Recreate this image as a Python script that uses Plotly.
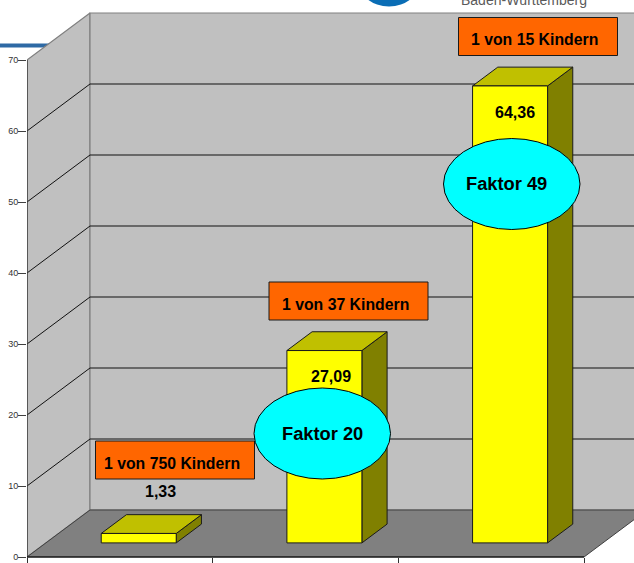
import plotly.graph_objects as go

# ---- data ----
categories = ["A", "B", "C"]
values = [1.33, 27.09, 64.36]
value_labels = ["1,33", "27,09", "64,36"]
callouts = ["1 von 750 Kindern", "1 von 37 Kindern", "1 von 15 Kindern"]
factors = ["Faktor 20", "Faktor 49"]
y_ticks = [0, 10, 20, 30, 40, 50, 60, 70]

# ---- layout constants (pixels) ----
W, H = 634, 563
X0, X_PER_CAT = 27, (584 - 27) / 3
Y0, Y_PER_UNIT = 557, (557 - 60) / 70
DEPTH_X = 63 / X_PER_CAT     # in category units
DEPTH_Y = 47 / Y_PER_UNIT    # in value units
X_MAX = (W - X0) / X_PER_CAT
Y_MAX = Y0 / Y_PER_UNIT
Y_MIN = -(H - Y0) / Y_PER_UNIT
BAR_W = 75 / X_PER_CAT
Z_FRONT, Z_BACK = 0.3, 0.7

def P(x, v, z):
    return x + z * DEPTH_X, v + z * DEPTH_Y

def px(x):   # page pixel -> paper x
    return (x - X0) / (W - X0)

def py(y):   # page pixel -> paper y
    return (H - y) / H

def poly(pts, fill, line="#000000", width=1):
    xs, ys = zip(*pts)
    return go.Scatter(x=list(xs) + [xs[0]], y=list(ys) + [ys[0]], mode="lines",
                      fill="toself", fillcolor=fill,
                      line=dict(color=line, width=width),
                      hoverinfo="skip", showlegend=False)

def seg(pts, color="#000000", width=1):
    xs, ys = zip(*pts)
    return go.Scatter(x=list(xs), y=list(ys), mode="lines",
                      line=dict(color=color, width=width),
                      hoverinfo="skip", showlegend=False)

fig = go.Figure()
n = len(categories)
top = y_ticks[-1]

# walls and floor
fig.add_trace(poly([P(0, 0, 0), P(0, top, 0), P(0, top, 1), P(0, 0, 1)], "#C0C0C0", "#808080", 1.2))
fig.add_trace(poly([P(0, 0, 1), P(0, top, 1), P(X_MAX, top, 1), P(X_MAX, 0, 1)], "#C0C0C0", "#808080", 1.2))
fig.add_trace(poly([P(0, 0, 0), P(n, 0, 0), P(n, 0, 1), P(0, 0, 1)], "#808080", "#404040", 1))

# gridlines
for t in y_ticks[1:-1]:
    fig.add_trace(seg([P(0, t, 0), P(0, t, 1), P(X_MAX, t, 1)], "#111111", 1))

# bars
for i, v in enumerate(values):
    x1 = i + 0.5 - BAR_W / 2
    x2 = i + 0.5 + BAR_W / 2
    fig.add_trace(poly([P(x2, 0, Z_FRONT), P(x2, v, Z_FRONT), P(x2, v, Z_BACK), P(x2, 0, Z_BACK)], "#808000", "#1a1a1a", 1))
    fig.add_trace(poly([P(x1, v, Z_FRONT), P(x2, v, Z_FRONT), P(x2, v, Z_BACK), P(x1, v, Z_BACK)], "#C0C000", "#1a1a1a", 1))
    fig.add_trace(poly([P(x1, 0, Z_FRONT), P(x2, 0, Z_FRONT), P(x2, v, Z_FRONT), P(x1, v, Z_FRONT)], "#FFFF00", "#1a1a1a", 1))

# axis lines
fig.add_trace(seg([(0, 0), (0, top)], "#404040", 1.5))
fig.add_trace(seg([(0, 0), (n, 0)], "#000000", 1))

shapes = []
annotations = []

def text(x, y, s, size, color="#000000", bold=True):
    annotations.append(dict(xref="paper", yref="paper", x=px(x), y=py(y), text=f"<b>{s}</b>" if bold else s,
                            showarrow=False, xanchor="center", yanchor="middle",
                            font=dict(family="Liberation Sans, Arial, sans-serif", size=size, color=color)))

def rect(x1, y1, x2, y2, fill, line="#000000", layer="above", kind="rect", width=1):
    shapes.append(dict(type=kind, xref="paper", yref="paper", x0=px(x1), x1=px(x2), y0=py(y1), y1=py(y2),
                       fillcolor=fill, line=dict(color=line, width=width), layer=layer))

# header fragments behind the chart
rect(0, 43.5, 60, 47.5, "#2E6AA5", "#2E6AA5", "below", width=0)
rect(358, -45, 420, 6.5, "#0A6DB5", "#0A6DB5", "below", "circle", 0)
text(524, 0, "Baden-Württemberg", 14, "#5a5a5a", bold=False)

# callout boxes
boxes = [(95.5, 441, 254.5, 479), (269, 282, 428, 320), (458.5, 17.5, 617.5, 55.5)]
box_text_x = [171.5, 345, 534.5]
box_text_y = [463.5, 304.5, 39.5]
for b, s, tx, ty in zip(boxes, callouts, box_text_x, box_text_y):
    rect(*b, "#FF6600", "#1a1a1a")
    text(tx, ty, s, 15.8)

# value labels
for (x, y), s in zip([(160.5, 491), (331, 376), (515, 112.5)], value_labels):
    text(x, y, s, 16)

# factor ellipses
ellipses = [(254, 388, 390.5, 479), (443.5, 138.5, 580, 229.5)]
for e, s, tx in zip(ellipses, factors, [322.5, 506]):
    rect(*e, "#00FFFF", "#000000", kind="circle")
    text(tx, (e[1] + e[3]) / 2 - 0.5, s, 18.3)

fig.update_layout(
    width=W, height=H, margin=dict(l=X0, r=0, t=0, b=0),
    paper_bgcolor="#FFFFFF", plot_bgcolor="#FFFFFF", showlegend=False,
    shapes=shapes, annotations=annotations,
    xaxis=dict(range=[0, X_MAX], showgrid=False, zeroline=False, showline=False,
               tickmode="array", tickvals=list(range(n + 1)), ticktext=[""] * (n + 1),
               ticks="outside", ticklen=6, tickcolor="#303030", tickwidth=1,
               anchor="free", position=(H - Y0) / H, fixedrange=True),
    yaxis=dict(range=[Y_MIN, Y_MAX], showgrid=False, zeroline=False, showline=False,
               tickmode="array", tickvals=y_ticks,
               ticks="outside", ticklen=8, tickcolor="#404040", tickwidth=1,
               ticklabelstandoff=-2,
               tickfont=dict(family="Liberation Sans, Arial, sans-serif", size=9, color="#333333"),
               fixedrange=True),
)

fig.write_html("out.html", config=dict(displayModeBar=False),
               post_script="document.body.style.margin='0';document.documentElement.style.overflow='hidden';")
